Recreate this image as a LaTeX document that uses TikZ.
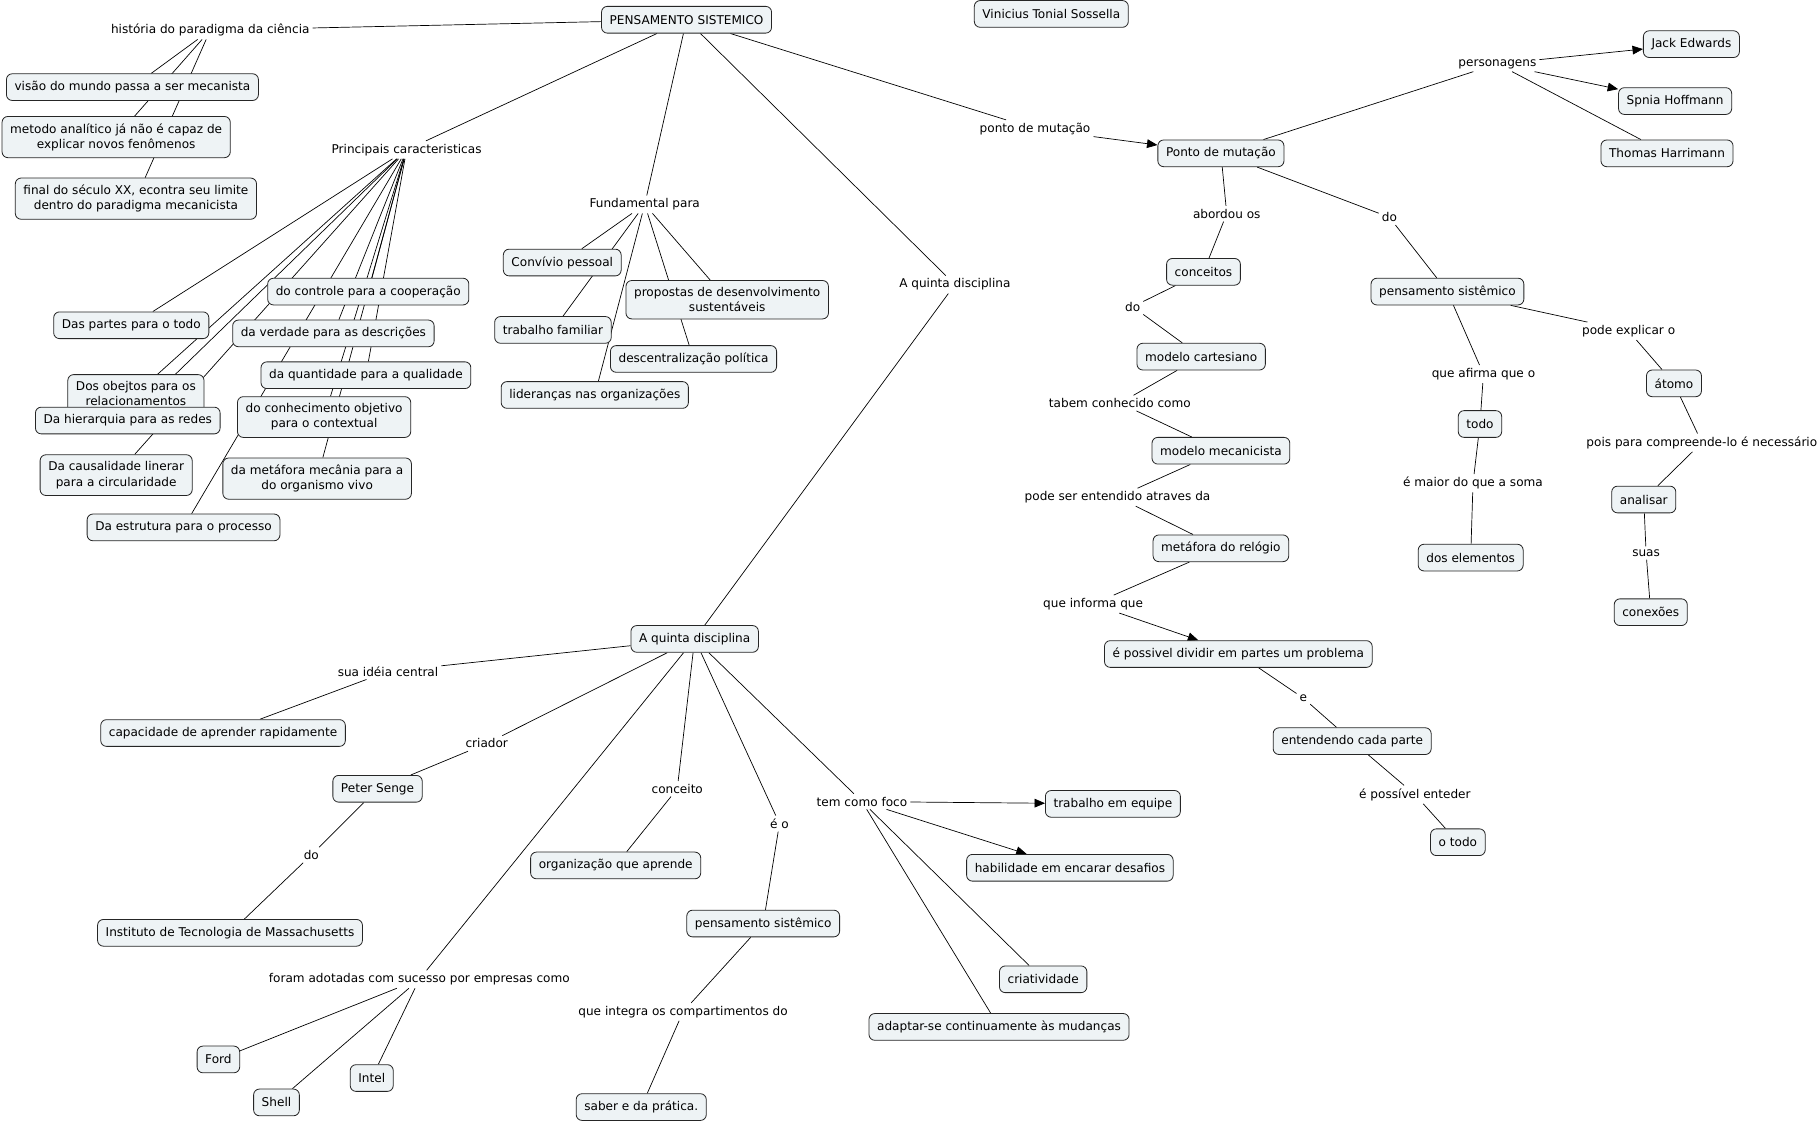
\documentclass[tikz,border=0pt]{standalone}
\usepackage{fontspec}
\setmainfont{DejaVu Sans}
\usepackage{tikz}
\usetikzlibrary{arrows.meta,backgrounds}

\definecolor{cmapfill}{HTML}{EEF3F5}
\tikzset{
  cmapfont/.style={font={\fontsize{10.4}{13}\selectfont}},
  concept/.style={cmapfont,draw=black!85,fill=cmapfill,line width=0.7pt,
    rounded corners=5pt,inner xsep=7pt,inner ysep=6pt,minimum height=23pt,align=center},
  phrase/.style={cmapfont,inner sep=2.5pt,align=center},
  link/.style={line width=0.6pt,black},
  arrowlink/.style={link,-{Triangle[length=9pt,width=7.5pt]}}
}

\begin{document}
\begin{tikzpicture}[x=1pt,y=-1pt]
\useasboundingbox (0,0) rectangle (1565,966);

% conceitos
\node[concept] (ps) at (591,17) {PENSAMENTO SISTEMICO};
\node[concept] (autor) at (905,12) {Vinicius Tonial Sossella};
\node[concept] (visao) at (114,75) {visão do mundo passa a ser mecanista};
\node[concept] (metodo) at (100,118) {metodo analítico já não é capaz de\\explicar novos fenômenos};
\node[concept] (final) at (117,171) {final do século XX, econtra seu limite\\dentro do paradigma mecanicista};
\node[concept] (partes) at (113,280) {Das partes para o todo};
\node[concept] (controle) at (317,251) {do controle para a cooperação};
\node[concept] (verdade) at (287,287) {da verdade para as descrições};
\node[concept] (quantidade) at (315,323) {da quantidade para a qualidade};
\node[concept] (objetos) at (117,339) {Dos obejtos para os\\relacionamentos};
\node[concept] (hierarquia) at (110,362) {Da hierarquia para as redes};
\node[concept] (conhecimento) at (279,359) {do conhecimento objetivo\\para o contextual};
\node[concept] (causalidade) at (100,409) {Da causalidade linerar\\para a circularidade};
\node[concept] (metafora) at (273,412) {da metáfora mecânia para a\\do organismo vivo};
\node[concept] (estrutura) at (158,454) {Da estrutura para o processo};
\node[concept] (convivio) at (484,226) {Convívio pessoal};
\node[concept] (familiar) at (476,284) {trabalho familiar};
\node[concept] (propostas) at (626,258) {propostas de desenvolvimento\\sustentáveis};
\node[concept] (descentral) at (597,309) {descentralização política};
\node[concept] (liderancas) at (512,340) {lideranças nas organizações};
\node[concept] (ponto) at (1051,132) {Ponto de mutação};
\node[concept] (jack) at (1456,38) {Jack Edwards};
\node[concept] (spnia) at (1442,87) {Spnia Hoffmann};
\node[concept] (thomas) at (1435,132) {Thomas Harrimann};
\node[concept] (conceitos) at (1036,234) {conceitos};
\node[concept] (psdir) at (1246,251) {pensamento sistêmico};
\node[concept] (cartesiano) at (1034,307) {modelo cartesiano};
\node[concept] (atomo) at (1441,330) {átomo};
\node[concept] (todo) at (1274,365) {todo};
\node[concept] (mecanicista) at (1051,388) {modelo mecanicista};
\node[concept] (analisar) at (1415,430) {analisar};
\node[concept] (relogio) at (1051,472) {metáfora do relógio};
\node[concept] (elementos) at (1266,480) {dos elementos};
\node[concept] (conexoes) at (1421,527) {conexões};
\node[concept] (dividir) at (1066,563) {é possivel dividir em partes um problema};
\node[concept] (entendendo) at (1164,638) {entendendo cada parte};
\node[concept] (otodo) at (1255,725) {o todo};
\node[concept] (quinta) at (598,550) {A quinta disciplina};
\node[concept] (capacidade) at (192,631) {capacidade de aprender rapidamente};
\node[concept] (senge) at (325,679) {Peter Senge};
\node[concept] (mit) at (198,803) {Instituto de Tecnologia de Massachusetts};
\node[concept] (organizacao) at (530,745) {organização que aprende};
\node[concept] (psbaixo) at (657,795) {pensamento sistêmico};
\node[concept] (equipe) at (958,692) {trabalho em equipe};
\node[concept] (habilidade) at (921,747) {habilidade em encarar desafios};
\node[concept] (criatividade) at (898,843) {criatividade};
\node[concept] (adaptar) at (860,884) {adaptar-se continuamente às mudanças};
\node[concept] (ford) at (188,912) {Ford};
\node[concept] (shell) at (238,949) {Shell};
\node[concept] (intel) at (320,928) {Intel};
\node[concept] (saber) at (552,953) {saber e da prática.};

% frases de ligacao
\node[phrase] (p-hist) at (181,26) {história do paradigma da ciência};
\node[phrase] (p-princ) at (350,129) {Principais caracteristicas};
\node[phrase] (p-fund) at (555,176) {Fundamental para};
\node[phrase] (p-quinta) at (822,245) {A quinta disciplina};
\node[phrase] (p-ponto) at (891,111) {ponto de mutação};
\node[phrase] (p-pers) at (1289,55) {personagens};
\node[phrase] (p-abord) at (1056,184) {abordou os};
\node[phrase] (p-do1) at (1196,187) {do};
\node[phrase] (p-do2) at (975,264) {do};
\node[phrase] (p-tabem) at (964,347) {tabem conhecido como};
\node[phrase] (p-pode) at (962,428) {pode ser entendido atraves da};
\node[phrase] (p-informa) at (941,520) {que informa que};
\node[phrase] (p-explicar) at (1402,285) {pode explicar o};
\node[phrase] (p-afirma) at (1277,322) {que afirma que o};
\node[phrase] (p-pois) at (1465,381) {pois para compreende-lo é necessário};
\node[phrase] (p-maior) at (1268,416) {é maior do que a soma};
\node[phrase] (p-suas) at (1417,476) {suas};
\node[phrase] (p-e) at (1122,601) {e};
\node[phrase] (p-enteder) at (1218,684) {é possível enteder};
\node[phrase] (p-ideia) at (334,578) {sua idéia central};
\node[phrase] (p-criador) at (419,640) {criador};
\node[phrase] (p-do3) at (268,736) {do};
\node[phrase] (p-conceito) at (583,679) {conceito};
\node[phrase] (p-eo) at (671,709) {é o};
\node[phrase] (p-foco) at (742,690) {tem como foco};
\node[phrase] (p-foram) at (361,843) {foram adotadas com sucesso por empresas como};
\node[phrase] (p-integra) at (588,871) {que integra os compartimentos do};

\begin{scope}[on background layer]
\fill[white] (0,0) rectangle (1565,966);
\foreach \a/\b in {ps/p-hist,p-hist/visao,p-hist/metodo,p-hist/final,
  ps/p-princ,p-princ/partes,p-princ/controle,p-princ/verdade,p-princ/quantidade,
  p-princ/objetos,p-princ/hierarquia,p-princ/conhecimento,p-princ/causalidade,
  p-princ/metafora,p-princ/estrutura,
  ps/p-fund,p-fund/convivio,p-fund/familiar,p-fund/propostas,p-fund/descentral,p-fund/liderancas,
  ps/p-quinta,p-quinta/quinta,ps/p-ponto,
  ponto/p-pers,p-pers/thomas,ponto/p-abord,p-abord/conceitos,ponto/p-do1,p-do1/psdir,
  conceitos/p-do2,p-do2/cartesiano,cartesiano/p-tabem,p-tabem/mecanicista,
  mecanicista/p-pode,p-pode/relogio,relogio/p-informa,
  dividir/p-e,p-e/entendendo,entendendo/p-enteder,p-enteder/otodo,
  psdir/p-afirma,p-afirma/todo,todo/p-maior,p-maior/elementos,
  psdir/p-explicar,p-explicar/atomo,atomo/p-pois,p-pois/analisar,analisar/p-suas,p-suas/conexoes,
  quinta/p-ideia,p-ideia/capacidade,quinta/p-criador,p-criador/senge,senge/p-do3,p-do3/mit,
  quinta/p-foram,p-foram/ford,p-foram/shell,p-foram/intel,
  quinta/p-conceito,p-conceito/organizacao,quinta/p-eo,p-eo/psbaixo,
  psbaixo/p-integra,p-integra/saber,
  quinta/p-foco,p-foco/criatividade,p-foco/adaptar}
  \draw[link] (\a) -- (\b);
\foreach \a/\b in {p-ponto/ponto,p-pers/jack,p-pers/spnia,p-informa/dividir,
  p-foco/equipe,p-foco/habilidade}
  \draw[arrowlink] (\a) -- (\b);
\end{scope}
\end{tikzpicture}
\end{document}
